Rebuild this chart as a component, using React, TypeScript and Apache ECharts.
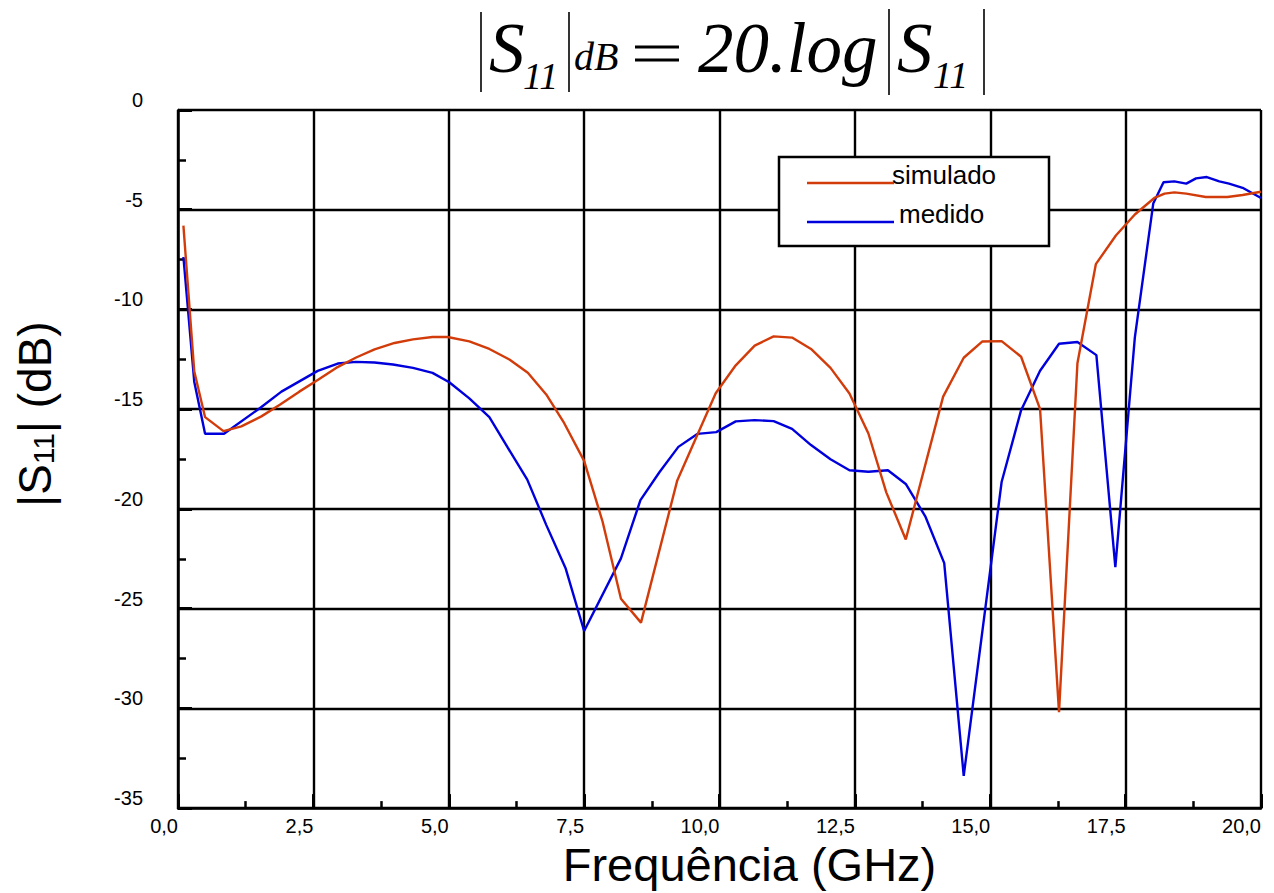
import React, { useEffect, useRef } from "react";
import * as echarts from "echarts";

// ---- data ----
const simFreq = [0.1, 0.3, 0.5, 0.84, 1.17, 1.54, 1.88, 2.24, 2.58, 2.92, 3.29, 3.63, 4.0, 4.34, 4.7, 4.98, 5.38, 5.75, 6.12, 6.46, 6.8, 7.13, 7.5, 7.84, 8.18, 8.55, 9.22, 9.93, 10.3, 10.65, 11.0, 11.34, 11.69, 12.05, 12.4, 12.75, 13.08, 13.44, 14.13, 14.51, 14.85, 15.21, 15.57, 15.92, 16.27, 16.61, 16.95, 17.32, 17.67, 18.03, 18.22, 18.4, 18.62, 18.98, 19.38, 19.66, 20.0];
const simDb = [-5.8, -13.1, -15.4, -16.1, -15.86, -15.36, -14.78, -14.12, -13.54, -12.93, -12.41, -12.0, -11.68, -11.5, -11.38, -11.38, -11.6, -11.98, -12.51, -13.17, -14.26, -15.69, -17.59, -20.63, -24.5, -25.7, -18.57, -14.2, -12.8, -11.81, -11.35, -11.41, -11.98, -12.93, -14.21, -16.22, -19.17, -21.53, -14.37, -12.42, -11.61, -11.59, -12.37, -15.0, -30.19, -12.7, -7.73, -6.29, -5.24, -4.41, -4.19, -4.13, -4.19, -4.36, -4.36, -4.26, -4.1];

const medFreq = [0.1, 0.3, 0.5, 0.85, 1.51, 1.91, 2.58, 2.95, 3.29, 3.63, 3.97, 4.34, 4.7, 5.01, 5.38, 5.75, 6.09, 6.45, 6.8, 7.16, 7.5, 8.18, 8.54, 8.89, 9.24, 9.59, 9.94, 10.3, 10.65, 11.0, 11.34, 11.69, 12.05, 12.4, 12.75, 13.11, 13.44, 13.8, 14.15, 14.51, 15.21, 15.57, 15.92, 16.27, 16.61, 16.96, 17.31, 17.67, 18.01, 18.2, 18.4, 18.62, 18.8, 19.0, 19.23, 19.41, 19.66, 20.0];
const medDb = [-7.37, -13.62, -16.23, -16.23, -14.95, -14.12, -13.08, -12.71, -12.63, -12.66, -12.76, -12.93, -13.18, -13.65, -14.46, -15.4, -16.93, -18.53, -20.8, -22.99, -26.12, -22.48, -19.56, -18.16, -16.89, -16.24, -16.15, -15.61, -15.55, -15.6, -15.99, -16.8, -17.51, -18.06, -18.14, -18.06, -18.75, -20.37, -22.72, -33.38, -18.65, -15.05, -13.07, -11.72, -11.63, -12.29, -22.92, -11.41, -4.69, -3.62, -3.58, -3.69, -3.43, -3.36, -3.58, -3.69, -3.9, -4.41];

const seriesNames = ["simulado", "medido"];
const xName = "Frequência (GHz)";

const RED = "#D23C0A";
const BLUE = "#0000DD";
const SERIF = '"Liberation Serif", "Times New Roman", serif';
const SANS = '"Liberation Sans", Arial, sans-serif';

function titleGraphics() {
  const bar = (x: number, y1: number, y2: number) => ({
    type: "line",
    shape: { x1: x, y1, x2: x, y2 },
    style: { stroke: "#000", lineWidth: 1.6 },
  });
  const txt = (text: string, x: number, y: number, size: number, italic = true) => ({
    type: "text",
    x,
    y,
    style: {
      text,
      fontSize: size,
      fontFamily: SERIF,
      fontStyle: italic ? "italic" : "normal",
      fill: "#000",
      align: "left",
      verticalAlign: "middle",
    },
  });
  return [
    bar(481, 12, 92),
    txt("S", 489, 48, 71),
    txt("11", 523, 76, 38),
    bar(569, 12, 92),
    txt("dB", 574, 56, 40),
    { type: "line", shape: { x1: 635, y1: 47, x2: 679, y2: 47 }, style: { stroke: "#000", lineWidth: 3 } },
    { type: "line", shape: { x1: 635, y1: 60, x2: 679, y2: 60 }, style: { stroke: "#000", lineWidth: 3 } },
    txt("20.log", 698, 48, 71),
    bar(889, 9, 95),
    txt("S", 897, 48, 71),
    txt("11", 933, 75, 38),
    bar(984, 9, 95),
  ];
}

function legendGraphics() {
  return [
    {
      type: "rect",
      z: 100,
      shape: { x: 779, y: 157, width: 270, height: 89 },
      style: { fill: "#fff", stroke: "#000", lineWidth: 2.5 },
    },
    { type: "line", z: 101, shape: { x1: 807, y1: 183, x2: 894, y2: 183 }, style: { stroke: RED, lineWidth: 2.5 } },
    { type: "line", z: 101, shape: { x1: 807, y1: 222, x2: 894, y2: 222 }, style: { stroke: BLUE, lineWidth: 2.5 } },
    {
      type: "text", z: 101, x: 892, y: 175,
      style: { text: seriesNames[0], fontSize: 26, fontFamily: SANS, fill: "#000", align: "left", verticalAlign: "middle" },
    },
    {
      type: "text", z: 101, x: 899, y: 214,
      style: { text: seriesNames[1], fontSize: 26, fontFamily: SANS, fill: "#000", align: "left", verticalAlign: "middle" },
    },
  ];
}

export default function App() {
  const ref = useRef<HTMLDivElement>(null);
  useEffect(() => {
    if (!ref.current) return;
    const chart = echarts.init(ref.current, undefined, { renderer: "svg" });
    const option = {
      animation: false,
      backgroundColor: "#fff",
      textStyle: { fontFamily: SANS },
      grid: { left: 178, top: 110, width: 1083, height: 703, containLabel: false },
      xAxis: {
        type: "value",
        min: 0,
        max: 20,
        interval: 2.5,
        name: xName,
        nameLocation: "middle",
        nameGap: 27,
        nameTextStyle: { fontSize: 47, color: "#000", fontFamily: SANS, padding: [0, 0, 0, 60] },
        axisLine: { onZero: false, lineStyle: { color: "#000", width: 2.5 } },
        axisTick: { inside: true, length: 14, lineStyle: { color: "#000", width: 3 } },
        minorTick: { show: true, splitNumber: 2, length: 7, lineStyle: { color: "#000", width: 2.5 } },
        splitLine: { show: true, lineStyle: { color: "#000", width: 2.4 } },
        axisLabel: {
          color: "#000",
          fontSize: 20,
          margin: 8,
          align: "right",
          formatter: (v: number) => v.toFixed(1).replace(".", ","),
        },
      },
      yAxis: {
        type: "value",
        min: -35,
        max: 0,
        interval: 5,
        name: "{a||S}{b|11}{a|| (dB)}",
        nameLocation: "middle",
        nameRotate: 90,
        nameGap: 120,
        nameTextStyle: {
          color: "#000",
          padding: [0, 0, 0, 90],
          rich: {
            a: { fontSize: 46, fontFamily: SANS, color: "#000", lineHeight: 52, verticalAlign: "bottom" },
            b: { fontSize: 30, fontFamily: SANS, color: "#000", lineHeight: 24, verticalAlign: "bottom" },
          },
        },
        axisLine: { onZero: false, lineStyle: { color: "#000", width: 2.5 } },
        axisTick: { inside: true, length: 14, lineStyle: { color: "#000", width: 3 } },
        minorTick: { show: true, splitNumber: 2, length: 8, lineStyle: { color: "#000", width: 2.5 } },
        splitLine: { show: true, lineStyle: { color: "#000", width: 2.4 } },
        axisLabel: {
          color: "#000",
          fontSize: 20,
          margin: 35,
          verticalAlign: "bottom",
          formatter: (v: number) => String(v),
        },
      },
      series: [
        {
          name: seriesNames[1],
          type: "line",
          data: medFreq.map((f, i) => [f, medDb[i]]),
          showSymbol: false,
          lineStyle: { color: BLUE, width: 2.4 },
          itemStyle: { color: BLUE },
          z: 3,
        },
        {
          name: seriesNames[0],
          type: "line",
          data: simFreq.map((f, i) => [f, simDb[i]]),
          showSymbol: false,
          lineStyle: { color: RED, width: 2.4 },
          itemStyle: { color: RED },
          z: 4,
        },
      ],
      graphic: [...titleGraphics(), ...legendGraphics()],
    };
    chart.setOption(option as any);
    return () => chart.dispose();
  }, []);
  return (
    <div
      ref={ref}
      style={{ position: "fixed", left: 0, top: 0, width: 1274, height: 893, background: "#fff" }}
    />
  );
}
